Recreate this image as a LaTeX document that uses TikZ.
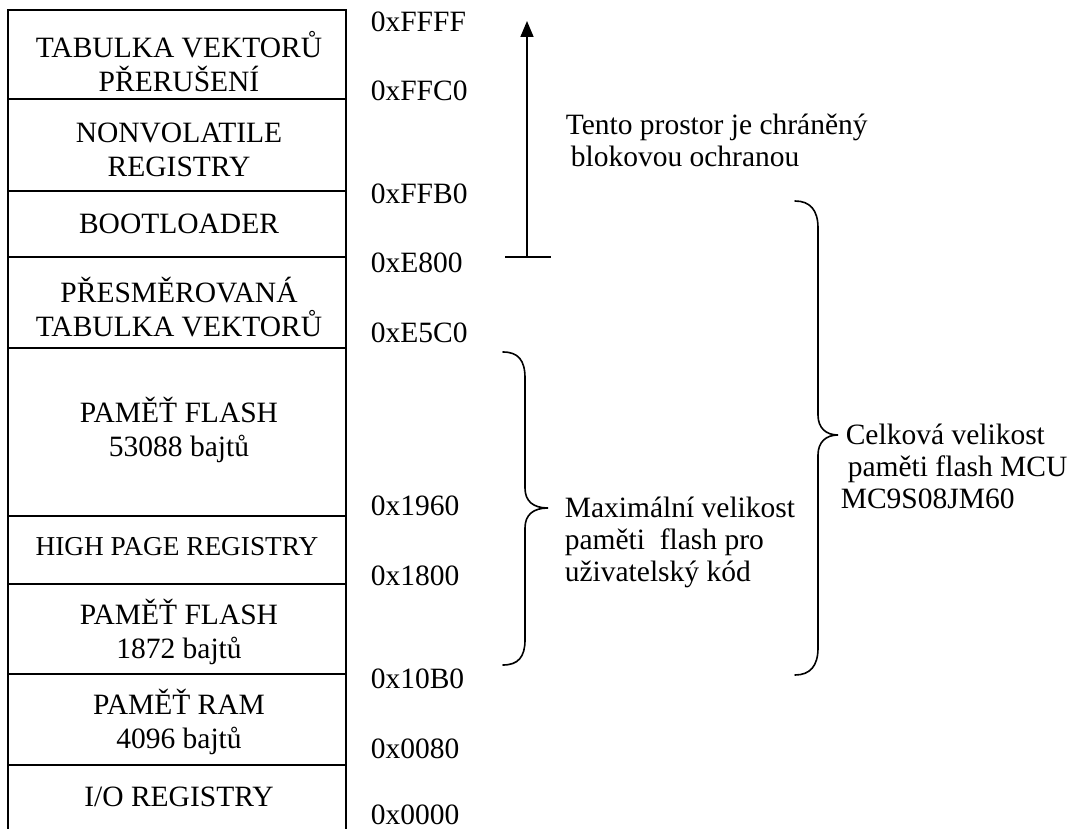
\documentclass[tikz,border=0pt]{standalone}
\usepackage{fontspec}
\setmainfont{Liberation Serif}
\usetikzlibrary{arrows.meta}
\begin{document}
\begin{tikzpicture}[x=1pt,y=-1pt,line width=1.6pt,
  every node/.style={inner sep=0pt,font=\fontsize{29.5}{34}\selectfont},
  seg/.style={align=center},
  addr/.style={anchor=base west},
  note/.style={anchor=base west},
  brace/.style={line width=1.6pt,line cap=round}]
\fill[white] (0,0) rectangle (1081,829);
\useasboundingbox (0,0) rectangle (1081,829);

% memory column: open at the bottom
\draw (8,829) -- (8,10) -- (346,10) -- (346,829);
\foreach \y in {99,191,257,348,516,584,674,765}
  \draw (8,\y) -- (346,\y);

% segment contents
\node[seg] (vect)  at (179,62)  {TABULKA VEKTORŮ\\PŘERUŠENÍ};
\node[seg] (nvreg) at (179,150) {NONVOLATILE\\REGISTRY};
\node[seg] (boot)  at (179,224) {BOOTLOADER};
\node[seg] (redir) at (179,307) {PŘESMĚROVANÁ\\TABULKA VEKTORŮ};
\node[seg] (flhi)  at (179,430) {PAMĚŤ FLASH\\53088 bajtů};
\node[seg,font=\fontsize{27.3}{31}\selectfont] (hpreg) at (177,547) {HIGH PAGE REGISTRY};
\node[seg] (fllo)  at (179,632) {PAMĚŤ FLASH\\1872 bajtů};
\node[seg] (ram)   at (179,722) {PAMĚŤ RAM\\4096 bajtů};
\node[seg] (io)    at (179,797) {I/O REGISTRY};

% addresses
\node[addr] (aFFFF) at (370,32)  {0xFFFF};
\node[addr] (aFFC0) at (370,101) {0xFFC0};
\node[addr] (aFFB0) at (370,204) {0xFFB0};
\node[addr] (aE800) at (370,272) {0xE800};
\node[addr] (aE5C0) at (370,342) {0xE5C0};
\node[addr] (a1960) at (370,515) {0x1960};
\node[addr] (a1800) at (370,585) {0x1800};
\node[addr] (a10B0) at (370,688) {0x10B0};
\node[addr] (a0080) at (370,758) {0x0080};
\node[addr] (a0000) at (370,824) {0x0000};

% protected region arrow
\coordinate (arrbase) at (527,257);
\coordinate (arrtip)  at (527,21);
\coordinate (tickl)   at (505,257);
\coordinate (tickr)   at (551,257);
\draw[-{Triangle[length=16pt,width=13pt]}] (arrbase) -- (arrtip);
\draw (tickl) -- (tickr);
\node[note] (prot1) at (565,135) {Tento prostor je chráněný};
\node[note] (prot2) at (570,167) {blokovou ochranou};

% brace: user code area
\draw[brace] (503,352) .. controls (518,352) and (525,360) .. (525,378)
  -- (525,488) .. controls (525,501) and (533,508) .. (548,508)
  .. controls (533,508) and (525,515) .. (525,528)
  -- (525,640) .. controls (525,657) and (518,665) .. (503,665);
\node[note] (user1) at (564,517) {Maximální velikost};
\node[note] (user2) at (564,549) {paměti\ \ flash pro};
\node[note] (user3) at (564,581) {uživatelský kód};

% brace: whole flash
\draw[brace] (795,201) .. controls (810,201) and (818,210) .. (818,228)
  -- (818,415) .. controls (818,428) and (826,435) .. (838,435)
  .. controls (826,435) and (818,442) .. (818,455)
  -- (818,648) .. controls (818,666) and (810,675) .. (795,675);
\node[note] (tot1) at (845,444) {Celková velikost};
\node[note] (tot2) at (847,476) {paměti flash MCU};
\node[note] (tot3) at (840,508) {MC9S08JM60};
\end{tikzpicture}
\end{document}
